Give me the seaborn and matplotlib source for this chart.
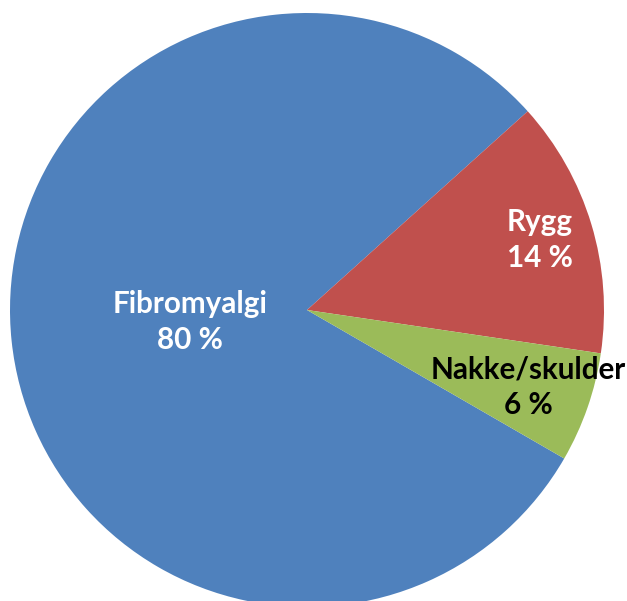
import numpy as np
import matplotlib
matplotlib.use("Agg")
import matplotlib.pyplot as plt
import seaborn as sns

sns.set_theme(style="white")
plt.rcParams['font.family'] = ['Lato', 'DejaVu Sans']

categories = ["Fibromyalgi", "Rygg", "Nakke/skulder"]
values = [80, 14, 6]
colors = ["#4F81BD", "#C0504D", "#9BBB59"]
text_colors = ["white", "white", "black"]
label_dist = [0.396, 0.82, 0.79]

fig = plt.figure(figsize=(6.27, 6.01), dpi=100)
ax = fig.add_axes([10/627, -6/601, 594/627, 594/601])
wedges, _ = ax.pie(values, colors=colors, startangle=-30, counterclock=False,
                   radius=1.0, wedgeprops=dict(linewidth=0))
ax.set_xlim(-1, 1)
ax.set_ylim(-1, 1)
ax.set_aspect('equal')
ax.axis('off')

for w, cat, v, tc, d in zip(wedges, categories, values, text_colors, label_dist):
    mid = np.deg2rad((w.theta1 + w.theta2) / 2)
    ax.text(d * np.cos(mid), d * np.sin(mid), f"{cat}\n{v} %",
            ha='center', va='center', color=tc, fontsize=21.3,
            fontweight='bold', linespacing=1.35)

fig.savefig("out.png", dpi=100)
